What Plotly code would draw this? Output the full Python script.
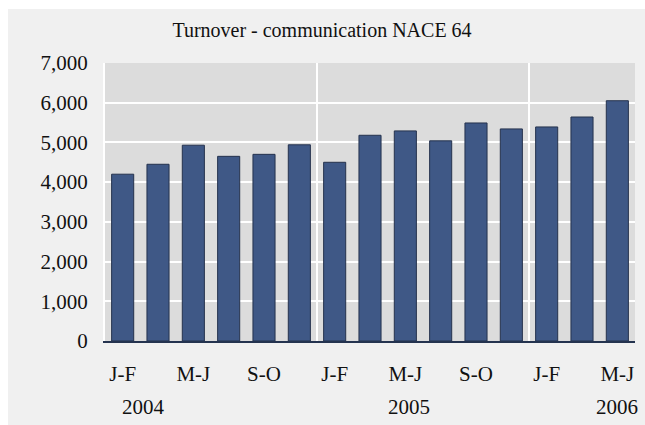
import plotly.graph_objects as go

periods = ["J-F", "M-A", "M-J", "J-A", "S-O", "N-D",
           "J-F", "M-A", "M-J", "J-A", "S-O", "N-D",
           "J-F", "M-A", "M-J"]
turnover = [4200, 4450, 4930, 4650, 4700, 4940,
            4500, 5180, 5290, 5040, 5490, 5340,
            5390, 5640, 6050]
years = ["2004", "2005", "2006"]
year_pos = [0.6, 8.1, 14.0]
title_text = "Turnover - communication NACE 64"

FONT = "Liberation Serif, Times New Roman, serif"
x = list(range(len(turnover)))

OFF_X, OFF_Y = 8, 9          # white page margin (left, top)
W, H = 645, 425
L, T, R, B = 97, 54, 18, 93
PH = H - T - B

fig = go.Figure()
fig.add_trace(go.Bar(
    x=x, y=turnover,
    marker=dict(color="#3f5886", line=dict(color="#25324d", width=1)),
    hoverinfo="y",
))

shapes = []
for b in [5.5, 11.5]:
    shapes.append(dict(type="line", xref="x", yref="paper", x0=b, x1=b, y0=0, y1=1,
                       line=dict(color="white", width=2), layer="below"))

annotations = [
    dict(text=yr, x=xp, xref="x", y=-66 / PH, yref="paper",
         showarrow=False, xanchor="center", yanchor="middle",
         font=dict(family=FONT, size=21, color="#111111"))
    for yr, xp in zip(years, year_pos)
]

fig.update_layout(
    width=W, height=H,
    margin=dict(l=L, r=R, t=T, b=B),
    paper_bgcolor="#f0f0f0",
    plot_bgcolor="#dcdcdc",
    showlegend=False,
    bargap=0.375,
    font=dict(family=FONT, size=21, color="#111111"),
    title=dict(text=title_text, x=(322 - OFF_X) / W, xanchor="center",
               y=1 - (30 - OFF_Y) / H, yanchor="middle", yref="container",
               font=dict(family=FONT, size=20, color="#111111")),
    shapes=shapes,
    annotations=annotations,
    xaxis=dict(
        range=[-0.5, len(turnover) - 0.5],
        tickvals=x[::2], ticktext=periods[::2],
        showgrid=False, zeroline=False,
        showline=True, linecolor="#24334f", linewidth=1.5,
        ticks="", ticklabelstandoff=13,
        tickfont=dict(family=FONT, size=21, color="#111111"),
    ),
    yaxis=dict(
        range=[0, 7000], dtick=1000, tickformat=",",
        showgrid=True, gridcolor="white", gridwidth=1.5,
        zeroline=False, showline=True, linecolor="white", linewidth=2,
        ticks="", ticklabelstandoff=11,
        tickfont=dict(family=FONT, size=21, color="#111111"),
    ),
)

fig.write_html(
    "out.html",
    config={"displayModeBar": False},
    post_script=(
        "var h=document.documentElement.style;"
        "h.overflow='hidden';h.background='#f0f0f0';"
        f"h.borderLeft='{OFF_X}px solid white';h.borderTop='{OFF_Y}px solid white';"
        "var b=document.body.style;b.overflow='hidden';b.margin='0';b.background='transparent';"
    ),
)
